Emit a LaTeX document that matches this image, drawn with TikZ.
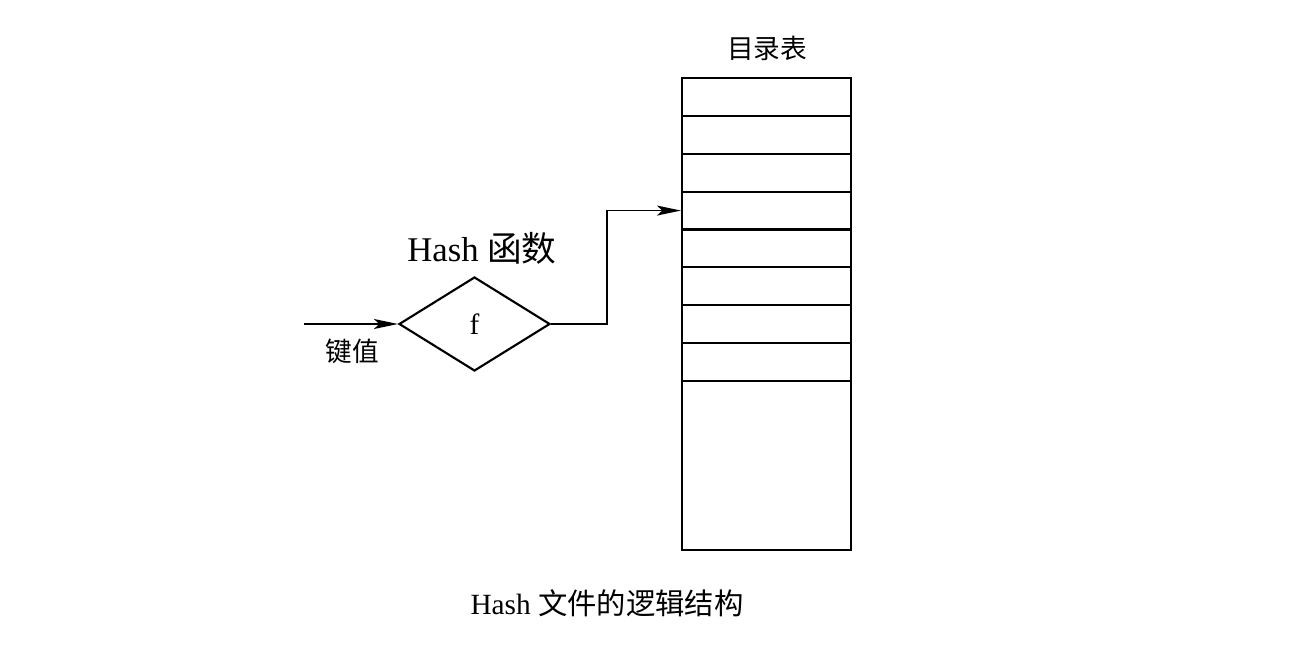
\documentclass[tikz,border=0pt]{standalone}
\usepackage{fontspec}
\setmainfont{Liberation Serif}
\newfontfamily\cjk{Noto Sans CJK SC}
\usetikzlibrary{shapes.geometric,arrows.meta}
\begin{document}
\begin{tikzpicture}[x=0.75pt,y=-0.75pt,
  line width=1.6pt,
  cell/.style={draw,rectangle,minimum width=126.75pt,minimum height=28.4pt,inner sep=0pt,line width=1.6pt},
  arr/.style={-{Stealth[length=18pt,width=7.5pt,inset=4pt]},line width=1.1pt},
  lbl/.style={inner sep=0pt}]
\useasboundingbox (0,0) rectangle (1292,670);
% table
\foreach \i in {0,...,7}{
  \node[cell] (r\i) at (766.5,{78+37.875*(\i+0.5)}) {};
}
\node[cell,minimum height=126.75pt] (rb) at (766.5,465.5) {};
\node[lbl,font=\cjk\fontsize{20pt}{24pt}\selectfont] (title) at (767,48) {目录表};
% diamond
\node[draw,diamond,minimum width=113.25pt,minimum height=70.5pt,inner sep=0pt,line width=1.6pt,font=\fontsize{22pt}{26pt}\selectfont] (d) at (474.5,324) {f};
\node[lbl,font=\fontsize{26pt}{30pt}\selectfont] (hf) at (482,248) {Hash {\cjk 函数}};
\coordinate (in) at (304,324);
\draw[arr] (in) -- (d.west);
\node[lbl,font=\cjk\fontsize{20pt}{24pt}\selectfont] (key) at (352,351) {键值};
\draw[arr] (d.east) -- ++(56,0) |- (r3.west);
\node[lbl,font=\fontsize{22pt}{26pt}\selectfont] (cap) at (607,603) {Hash {\cjk 文件的逻辑结构}};
\end{tikzpicture}
\end{document}
